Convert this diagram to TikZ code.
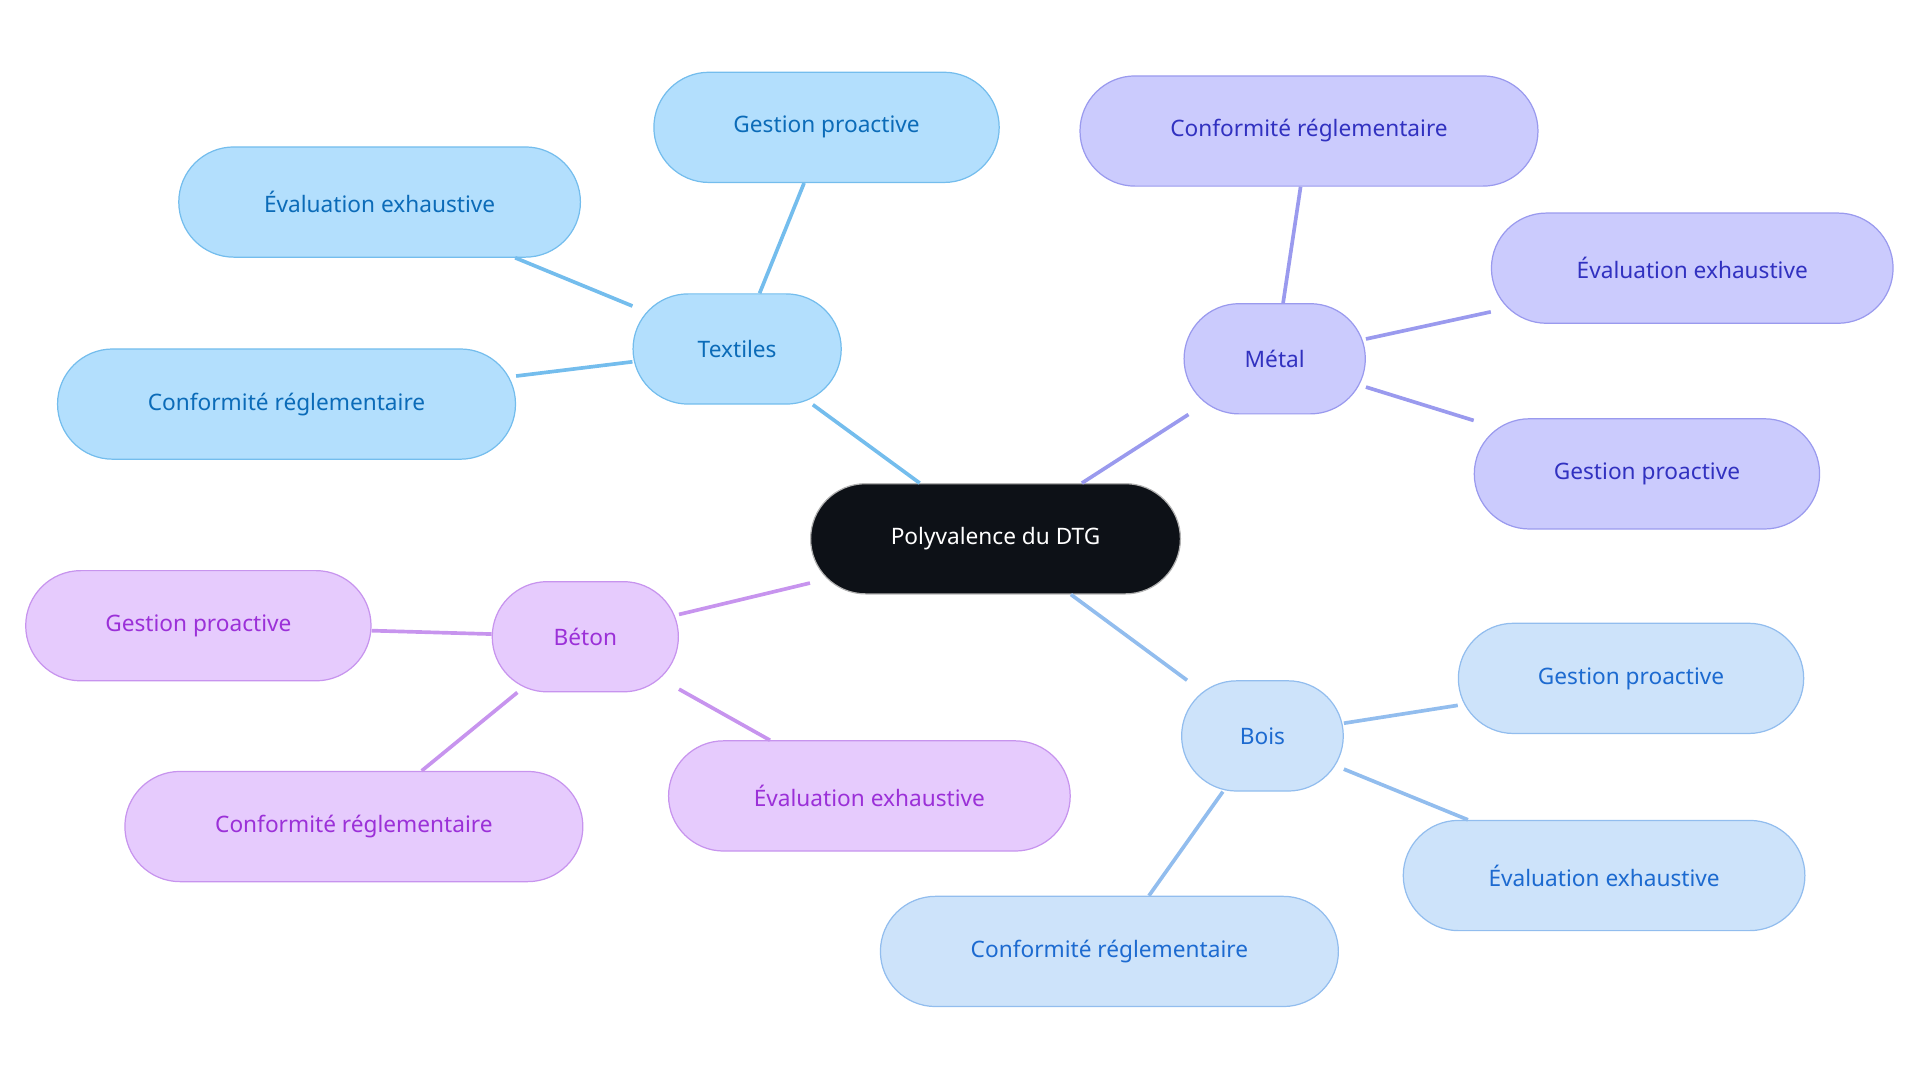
\documentclass[tikz,border=0pt]{standalone}
\usepackage{fontspec}
\setmainfont{Noto Sans}
\begin{document}
\begin{tikzpicture}[x=1pt,y=-1pt,
  box/.style={draw,line width=1pt,minimum height=90pt,rounded corners=45pt,font=\fontsize{18.5}{22}\selectfont,inner sep=0pt},
  tex/.style={box,fill=tfill,draw=tline,text=ttext},
  met/.style={box,fill=mfill,draw=mline,text=mtext},
  bet/.style={box,fill=bfill,draw=bline,text=btext},
  boi/.style={box,fill=ofill,draw=oline,text=otext},
  ln/.style={line width=3pt}]
\definecolor{tfill}{HTML}{B3DFFD}\definecolor{tline}{HTML}{74BDED}\definecolor{ttext}{HTML}{0B6BB8}
\definecolor{mfill}{HTML}{CBCBFD}\definecolor{mline}{HTML}{9A9AEE}\definecolor{mtext}{HTML}{3131C0}
\definecolor{bfill}{HTML}{E6CBFD}\definecolor{bline}{HTML}{C794EE}\definecolor{btext}{HTML}{9B30D8}
\definecolor{ofill}{HTML}{CDE3FA}\definecolor{oline}{HTML}{92BDEE}\definecolor{otext}{HTML}{1C6AD0}
\definecolor{cfill}{HTML}{0D1117}
\useasboundingbox (0,0) rectangle (1568,884);
\node[box,fill=cfill,draw=gray!60,text=white,minimum width=302pt] (c) at (813,440) {Polyvalence du DTG};
\node[tex,minimum width=170pt] (t) at (602,285) {Textiles};
\node[tex,minimum width=282pt] (t1) at (675,104) {Gestion proactive};
\node[tex,minimum width=328pt] (t2) at (310,165) {Évaluation exhaustive};
\node[tex,minimum width=374pt] (t3) at (234,330) {Conformité réglementaire};
\node[met,minimum width=148pt] (m) at (1041,293) {Métal};
\node[met,minimum width=374pt] (m1) at (1069,107) {Conformité réglementaire};
\node[met,minimum width=328pt] (m2) at (1382,219) {Évaluation exhaustive};
\node[met,minimum width=282pt] (m3) at (1345,387) {Gestion proactive};
\node[bet,minimum width=152pt] (b) at (478,520) {Béton};
\node[bet,minimum width=282pt] (b1) at (162,511) {Gestion proactive};
\node[bet,minimum width=374pt] (b2) at (289,675) {Conformité réglementaire};
\node[bet,minimum width=328pt] (b3) at (710,650) {Évaluation exhaustive};
\node[boi,minimum width=132pt] (o) at (1031,601) {Bois};
\node[boi,minimum width=282pt] (o1) at (1332,554) {Gestion proactive};
\node[boi,minimum width=328pt] (o2) at (1310,715) {Évaluation exhaustive};
\node[boi,minimum width=374pt] (o3) at (906,777) {Conformité réglementaire};
\draw[ln,tline] (c)--(t) (t)--(t1) (t)--(t2) (t)--(t3);
\draw[ln,mline] (c)--(m) (m)--(m1) (m)--(m2) (m)--(m3);
\draw[ln,bline] (c)--(b) (b)--(b1) (b)--(b2) (b)--(b3);
\draw[ln,oline] (c)--(o) (o)--(o1) (o)--(o2) (o)--(o3);
\end{tikzpicture}
\end{document}
